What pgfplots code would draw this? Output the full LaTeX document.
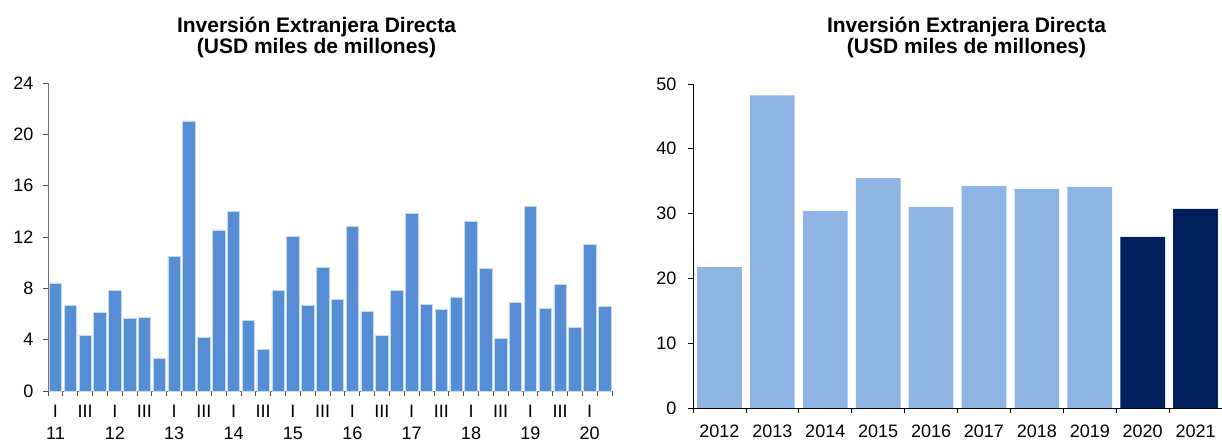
\documentclass[border=0pt]{standalone}
\usepackage{fontspec}
\setmainfont{Liberation Sans}
\usepackage{pgfplots}
\pgfplotsset{compat=1.18}
\definecolor{barA}{HTML}{558ED5}
\definecolor{barB}{HTML}{8EB4E3}
\definecolor{barC}{HTML}{002060}
\definecolor{edgeA}{HTML}{C6D9F1}
\begin{document}
\begin{tikzpicture}
\useasboundingbox (0,0) rectangle (1222pt,443pt);
% Left chart
\begin{axis}[
  at={(48pt,52pt)}, anchor=south west,
  scale only axis, width=564pt, height=308pt,
  xmin=-0.5, xmax=37.5, ymin=0, ymax=24,
  ybar, bar width=0.84,
  axis lines=left, axis line style={-, draw=black!55, line width=0.8pt},
  ytick={0,4,...,24},
  xtick={0,2,...,36},
  xticklabels={{I\\11},{III},{I\\12},{III},{I\\13},{III},{I\\14},{III},{I\\15},{III},{I\\16},{III},{I\\17},{III},{I\\18},{III},{I\\19},{III},{I\\20}},
  minor xtick={-0.5,0.5,...,37.5},
  major x tick style={draw=none},
  tick align=outside, major tick length=5pt, minor tick length=5pt,
  every tick/.style={draw=black!70, line width=0.8pt},
  tick label style={font=\fontsize{18}{22}\selectfont},
  xticklabel style={align=center, yshift=-6pt},
  yticklabel style={xshift=-6pt},
  /pgf/number format/assume math mode=true,
  enlargelimits=false, clip=false,
]
\addplot[fill=barA, draw=edgeA, line width=0.6pt] coordinates {
(0,8.43) (1,6.67) (2,4.36) (3,6.15) (4,7.86) (5,5.66) (6,5.73) (7,2.54)
(8,10.48) (9,21.04) (10,4.18) (11,12.56) (12,13.99) (13,5.50) (14,3.24) (15,7.81)
(16,12.07) (17,6.67) (18,9.60) (19,7.14) (20,12.82) (21,6.20) (22,4.33) (23,7.81)
(24,13.83) (25,6.75) (26,6.38) (27,7.27) (28,13.26) (29,9.55) (30,4.07) (31,6.93)
(32,14.37) (33,6.43) (34,8.33) (35,4.98) (36,11.42) (37,6.62)};
\end{axis}
% Right chart
\begin{axis}[
  at={(693pt,35pt)}, anchor=south west,
  scale only axis, width=529pt, height=324pt,
  xmin=-0.5, xmax=9.5, ymin=0, ymax=50,
  ybar, bar width=0.845,
  axis lines=left, axis line style={-, draw=black, line width=0.8pt},
  ytick={0,10,...,50},
  xtick={0,...,9},
  xticklabels={2012,2013,2014,2015,2016,2017,2018,2019,2020,2021},
  minor xtick={-0.5,0.5,...,9.5},
  major x tick style={draw=none},
  tick align=outside, major tick length=5pt, minor tick length=5pt,
  every tick/.style={draw=black, line width=0.8pt},
  tick label style={font=\fontsize{18}{22}\selectfont},
  xticklabel style={yshift=-8pt},
  yticklabel style={xshift=-8pt},
  /pgf/number format/assume math mode=true,
  /pgf/number format/1000 sep={},
  enlargelimits=false, clip=false,
]
\addplot[fill=barB, draw=none, bar shift=0pt] coordinates {
(0,21.74) (1,48.25) (2,30.42) (3,35.46) (4,31.04) (5,34.22) (6,33.81) (7,34.12)};
\addplot[fill=barC, draw=none, bar shift=0pt] coordinates {
(8,26.41) (9,30.73)};
\end{axis}
% Titles
\node[anchor=base, font=\fontsize{21}{22}\selectfont\bfseries] at (316.5pt,410pt) {Inversión Extranjera Directa};
\node[anchor=base, font=\fontsize{21}{22}\selectfont\bfseries] at (316.5pt,389pt) {(USD miles de millones)};
\node[anchor=base, font=\fontsize{21}{22}\selectfont\bfseries] at (966.5pt,410pt) {Inversión Extranjera Directa};
\node[anchor=base, font=\fontsize{21}{22}\selectfont\bfseries] at (966.5pt,389pt) {(USD miles de millones)};
\end{tikzpicture}
\end{document}
